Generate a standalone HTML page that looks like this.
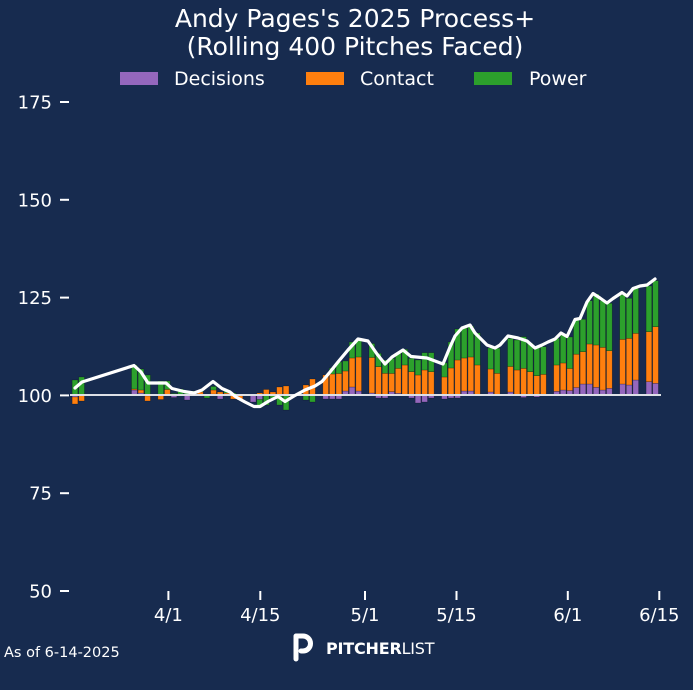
<!DOCTYPE html>
<html>
<head>
<meta charset="utf-8">
<style>
  html,body{margin:0;padding:0;background:#172b4f;}
  svg{display:block;}
  text{font-family:"DejaVu Sans","Liberation Sans",sans-serif;fill:#ffffff;}
</style>
</head>
<body>
<svg id="chart" xmlns="http://www.w3.org/2000/svg" width="693" height="690" viewBox="0 0 693 690">
  <rect x="0" y="0" width="693" height="690" fill="#172b4f"/>

  <!-- Title -->
  <text x="355" y="27" font-size="25" text-anchor="middle">Andy Pages's 2025 Process+</text>
  <text x="355" y="55" font-size="25" text-anchor="middle">(Rolling 400 Pitches Faced)</text>

  <!-- Legend -->
  <rect x="120" y="72" width="38" height="13" fill="#9467bd"/>
  <text x="174" y="85" font-size="19">Decisions</text>
  <rect x="306" y="72" width="38" height="13" fill="#ff7f0e"/>
  <text x="360" y="85" font-size="19">Contact</text>
  <rect x="474" y="72" width="38" height="13" fill="#2ca02c"/>
  <text x="529" y="85" font-size="19">Power</text>

  <!-- Y axis ticks -->
  <g stroke="#ffffff" stroke-width="2">
    <line x1="60" x2="69" y1="102" y2="102"/>
    <line x1="60" x2="69" y1="199.8" y2="199.8"/>
    <line x1="60" x2="69" y1="297.6" y2="297.6"/>
    <line x1="60" x2="69" y1="395.4" y2="395.4"/>
    <line x1="60" x2="69" y1="493.2" y2="493.2"/>
    <line x1="60" x2="69" y1="591" y2="591"/>
  </g>
  <g font-size="18" text-anchor="end">
    <text x="52" y="108.5">175</text>
    <text x="52" y="206.3">150</text>
    <text x="52" y="304.1">125</text>
    <text x="52" y="401.9">100</text>
    <text x="52" y="499.7">75</text>
    <text x="52" y="597.5">50</text>
  </g>

  <!-- X axis ticks -->
  <g stroke="#ffffff" stroke-width="2">
    <line x1="168.4" x2="168.4" y1="591" y2="600"/>
    <line x1="260.3" x2="260.3" y1="591" y2="600"/>
    <line x1="365" x2="365" y1="591" y2="600"/>
    <line x1="456.5" x2="456.5" y1="591" y2="600"/>
    <line x1="567.8" x2="567.8" y1="591" y2="600"/>
    <line x1="659.3" x2="659.3" y1="591" y2="600"/>
  </g>
  <g font-size="18" text-anchor="middle">
    <text x="168.4" y="621">4/1</text>
    <text x="260.3" y="621">4/15</text>
    <text x="365" y="621">5/1</text>
    <text x="456.5" y="621">5/15</text>
    <text x="567.8" y="621">6/1</text>
    <text x="659.3" y="621">6/15</text>
  </g>

  <!-- Bars -->
  <g id="bars"></g>

  <!-- Baseline at 100 -->
  <line x1="70" x2="661" y1="395" y2="395" stroke="#dde0e6" stroke-width="2"/>

  <!-- Rolling line -->
  <polyline fill="none" stroke="#ffffff" stroke-width="3.2" stroke-linejoin="round" stroke-linecap="round"
    points="75,388 82,382 134,365.5 141,372 148,383 166,383 172,388.5 184,391.5 194,393 202,390 213,381.5 222,388.5 230,392 236,397 245,402 254,406.5 260,406.5 268,401.5 278,396.5 285,401.5 294,396 305,390 315,386 322,381.5 330,372 338,362 348,350 358,339 368,341 377,354 385,364 392,357 403,350 411,356.5 427,358 435,361 443,364 450,347 455,336 462,328 470,325 475,333 482,340 487,345 495,348 500,345 508,336 518,338 527,341 535,348 542,345 548,342 555,339 561,333 567,336.5 575,319.5 580,318.5 587,302 593,293.5 600,298 607,303 613,298.5 622,292.5 627,296 633,288.5 640,286 647,285 655,279"/>

  <!-- Footer -->
  <text x="4" y="657" font-size="14.5">As of 6-14-2025</text>
  <g fill="none" stroke="#ffffff" stroke-width="5" stroke-linecap="round" stroke-linejoin="round">
    <path d="M296 659 V636 H303 A7.5 7.5 0 0 1 303 651 H301"/>
  </g>
  <text x="326" y="654" font-size="16" font-weight="bold" letter-spacing="-0.2">PITCHER<tspan font-weight="normal">LIST</tspan></text>
</svg>

<script>
(function(){
  var data=[
  [0,-2,-7,15],[1,0,-6,18],[9,5,1,24],[10,2,3,21],[11,-1,-5,20],
  [13,0,-4.5,14],[14,0.5,5,8.5],[15,-2.5,0,1.5],[16,0,0,6],[17,-5,0,2],
  [18,0,0,4],[19,0,3,2],[20,0,0,-3],[21,1,4,3.5],[22,-4,3,0],
  [23,0,2,2],[24,0,-4,2],[25,0,-5,0],[27,-7,0,0],[28,-4.5,2,-8],
  [29,0,5.5,-10],[30,0,3,-3],[31,0,8,-10],[32,0,9,-15],[35,0,10,-5],
  [36,0,16,-7],[38,-4,20,0],[39,-4,21,6],[40,-4,21.5,11.5],[41,4,20,10],
  [42,8,29,16],[43,4,34,17],[45,2,35.5,14],[46,-3,28.3,13.4],[47,-3,21.7,13.3],
  [48,3.3,18.3,15],[49,1.7,25,15],[50,0,30,15.7],[51,-3,23.3,13.4],[52,-8,20,15],
  [53,-7,25,17.3],[54,-3,23.3,19],[56,-4,18,14],[57,-3,27,26],[58,-3,35,31],
  [59,4,33,30],[60,4,34,31],[61,0,30,32],[63,3,23,21],[64,0,21.7,25],
  [66,3,25.5,28],[67,0,25,30],[68,-2.5,26.7,31.6],[69,0,23.3,28.4],[70,-2,19.3,29],
  [71,0,20.7,27.6],[73,3.7,26.3,26.7],[74,5,27,28],[75,4.5,22,31.5],[76,7.5,33.3,35.7],
  [77,11,32.3,32.4],[78,11,40,43.3],[79,7.7,42.3,51],[80,5,42.7,46.6],[81,6.7,37.6,47.4],
  [83,11,44.7,44.3],[84,10,46.7,40],[85,15,46.7,45],[87,13.3,50,45.7],[88,11.7,56.6,46]
  ];
  var NS="http://www.w3.org/2000/svg";
  var g=document.getElementById("bars");
  var cols=["#9467bd","#ff7f0e","#2ca02c"];
  var base=395, w=5.7;
  data.forEach(function(r){
    var cx=75+6.597*r[0], x=cx-w/2, pos=base, neg=base;
    for(var i=0;i<3;i++){
      var v=r[i+1]; if(!v) continue;
      var rect=document.createElementNS(NS,"rect");
      rect.setAttribute("x",x.toFixed(2));
      rect.setAttribute("width",w);
      rect.setAttribute("fill",cols[i]);
      rect.setAttribute("stroke","rgba(0,0,0,0.35)");
      rect.setAttribute("stroke-width","0.6");
      if(v>0){
        rect.setAttribute("y",(pos-v).toFixed(2));
        rect.setAttribute("height",v);
        pos-=v;
      } else {
        rect.setAttribute("y",neg.toFixed(2));
        rect.setAttribute("height",-v);
        neg-=v;
      }
      g.appendChild(rect);
    }
  });
})();
</script>
</body>
</html>
